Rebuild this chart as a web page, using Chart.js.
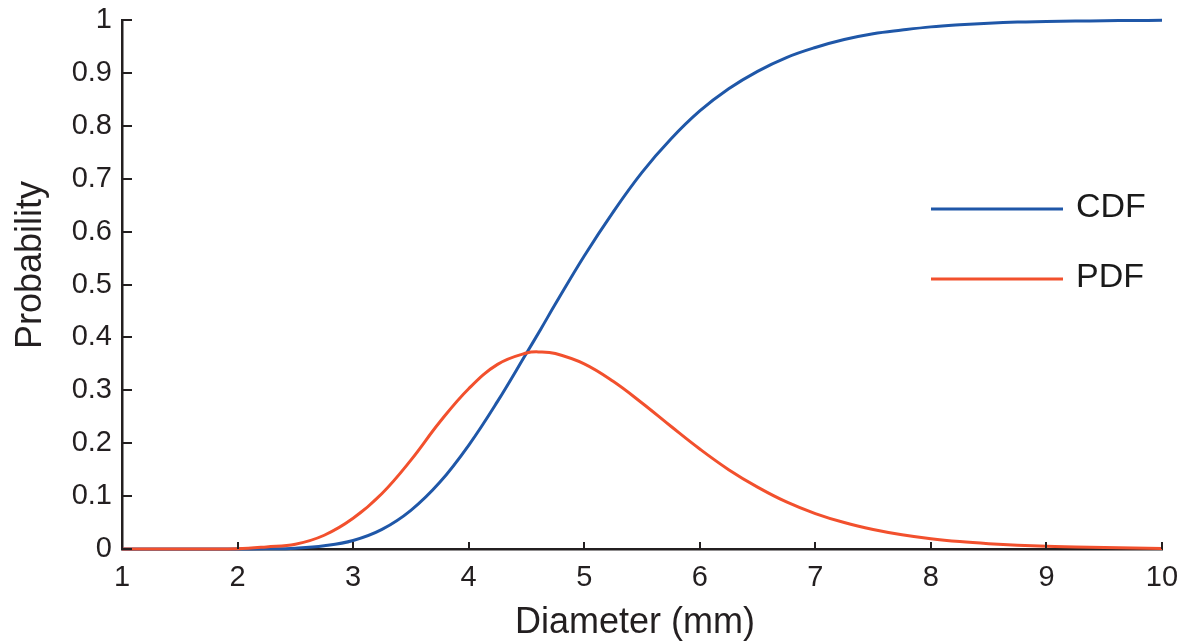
<!DOCTYPE html>
<html>
<head>
<meta charset="utf-8">
<script src="https://cdn.jsdelivr.net/npm/chart.js@4.4.1/dist/chart.umd.min.js"></script>
<style>
  html, body { margin: 0; padding: 0; background: #ffffff; }
  #wrap { position: relative; width: 1185px; height: 643px; }
</style>
</head>
<body>
<div id="wrap"><canvas id="c"></canvas></div>
<script>
// ---- data ----
const diameters = [1, 1.25, 1.5, 1.75, 2, 2.25, 2.5, 2.75, 3, 3.25, 3.5, 3.75, 4, 4.25, 4.5, 4.625, 4.75, 5, 5.25, 5.5, 5.75, 6, 6.25, 6.5, 6.75, 7, 7.25, 7.5, 7.75, 8, 8.25, 8.5, 8.75, 9, 9.25, 9.5, 9.75, 10];
const cdfValues = [0, 0, 0, 0, 0, 0.0003, 0.0016, 0.006, 0.016, 0.037, 0.073, 0.126, 0.196, 0.279, 0.37, 0.416, 0.463, 0.554, 0.637, 0.712, 0.775, 0.828, 0.87, 0.903, 0.929, 0.948, 0.963, 0.974, 0.981, 0.987, 0.991, 0.994, 0.996, 0.997, 0.998, 0.9986, 0.999, 0.9993];
const pdfValues = [0, 0, 0, 0, 0.0004, 0.004, 0.009, 0.026, 0.058, 0.105, 0.168, 0.24, 0.303, 0.349, 0.3705, 0.3725, 0.3695, 0.35, 0.317, 0.276, 0.232, 0.189, 0.15, 0.117, 0.089, 0.067, 0.05, 0.037, 0.027, 0.0195, 0.014, 0.01, 0.007, 0.005, 0.004, 0.003, 0.002, 0.001];
const seriesNames = ['CDF', 'PDF'];
const seriesColors = ['#1f57a8', '#f2502d'];
const xTicks = [1, 2, 3, 4, 5, 6, 7, 8, 9, 10];
const yTicks = [0, 0.1, 0.2, 0.3, 0.4, 0.5, 0.6, 0.7, 0.8, 0.9, 1];
const xTitle = 'Diameter (mm)';
const yTitle = 'Probability';

const FONT = '"Liberation Sans", Arial, Helvetica, sans-serif';
const AXIS_COLOR = '#231f20';

const toPoints = (ys) => diameters.map((x, i) => ({ x: x, y: ys[i] }));

// inward tick marks, axis titles and legend
const decorPlugin = {
  id: 'decor',
  afterDraw(chart) {
    const ctx = chart.ctx;
    const xs = chart.scales.x, ys = chart.scales.y;
    const area = chart.chartArea;
    ctx.save();
    ctx.strokeStyle = AXIS_COLOR;
    ctx.lineWidth = 2;
    yTicks.forEach(v => {
      const py = Math.round(ys.getPixelForValue(v));
      ctx.beginPath();
      ctx.moveTo(area.left, py);
      ctx.lineTo(area.left + 10, py);
      ctx.stroke();
    });
    xTicks.forEach(v => {
      const px = Math.round(xs.getPixelForValue(v));
      ctx.beginPath();
      ctx.moveTo(px, area.bottom);
      ctx.lineTo(px, area.bottom - 7);
      ctx.stroke();
    });
    // axis titles
    ctx.fillStyle = AXIS_COLOR;
    ctx.font = '36px ' + FONT;
    ctx.textAlign = 'center';
    ctx.textBaseline = 'alphabetic';
    ctx.fillText(xTitle, (area.left + area.right) / 2 - 7, 633);
    ctx.save();
    ctx.translate(41, 265);
    ctx.rotate(-Math.PI / 2);
    ctx.fillText(yTitle, 0, 0);
    ctx.restore();
    // legend
    const legendY = [209, 279];
    ctx.font = '34px ' + FONT;
    ctx.textAlign = 'left';
    ctx.textBaseline = 'middle';
    chart.data.datasets.forEach((ds, i) => {
      ctx.strokeStyle = ds.borderColor;
      ctx.lineWidth = 3;
      ctx.beginPath();
      ctx.moveTo(931, legendY[i]);
      ctx.lineTo(1063, legendY[i]);
      ctx.stroke();
      ctx.fillStyle = '#1a1a1a';
      ctx.fillText(ds.label, 1076, legendY[i] - 1);
    });
    ctx.restore();
  }
};

new Chart(document.getElementById('c'), {
  type: 'line',
  data: {
    datasets: [
      { label: seriesNames[0], data: toPoints(cdfValues), borderColor: seriesColors[0], backgroundColor: seriesColors[0], borderWidth: 3, pointRadius: 0, tension: 0.4, clip: false, order: 2 },
      { label: seriesNames[1], data: toPoints(pdfValues), borderColor: seriesColors[1], backgroundColor: seriesColors[1], borderWidth: 3, pointRadius: 0, tension: 0.4, clip: false, order: 1 }
    ]
  },
  options: {
    responsive: true,
    maintainAspectRatio: false,
    animation: false,
    events: [],
    layout: { padding: { top: 20, right: 23, left: 0, bottom: 0 } },
    plugins: { legend: { display: false }, tooltip: { enabled: false }, title: { display: false } },
    scales: {
      x: {
        type: 'linear', min: 1, max: 10,
        afterFit: (s) => { s.height = 94; s.paddingLeft = 0; s.paddingRight = 0; },
        afterBuildTicks: (s) => { s.ticks = xTicks.map(v => ({ value: v })); },
        grid: { display: true, drawOnChartArea: false, drawTicks: false, color: AXIS_COLOR },
        border: { display: true, color: AXIS_COLOR, width: 2.5 },
        ticks: { color: AXIS_COLOR, padding: 12, font: { family: FONT, size: 29 }, maxRotation: 0, autoSkip: false, callback: (v) => String(v) }
      },
      y: {
        type: 'linear', min: 0, max: 1,
        afterFit: (s) => { s.width = 122; s.paddingTop = 0; s.paddingBottom = 0; },
        afterBuildTicks: (s) => { s.ticks = yTicks.map(v => ({ value: v })); },
        grid: { display: true, drawOnChartArea: false, drawTicks: false, color: AXIS_COLOR },
        border: { display: true, color: AXIS_COLOR, width: 2.5 },
        ticks: { color: AXIS_COLOR, padding: 10, font: { family: FONT, size: 29 }, autoSkip: false, callback: (v) => String(Number(v.toFixed(1))) }
      }
    }
  },
  plugins: [decorPlugin]
});
</script>
</body>
</html>
